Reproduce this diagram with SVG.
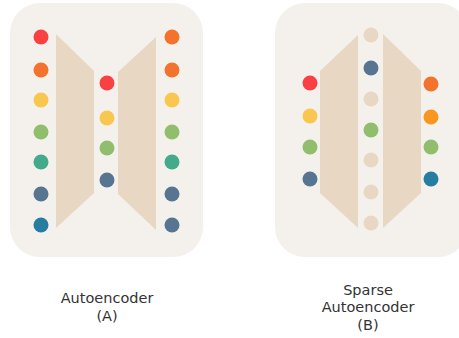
<svg xmlns="http://www.w3.org/2000/svg" width="459" height="338" viewBox="0 0 459 338">
  <style>
    .panel { fill: #F4F1EC; }
    .layer { fill: #E8D8C3; }
    .label { font-family: "DejaVu Sans", sans-serif; font-size: 14.5px; fill: #333333; text-anchor: middle; }
    .r { fill: #F94144; } .o { fill: #F3722C; } .o2 { fill: #F8961E; } .y { fill: #F9C74F; }
    .g { fill: #90BE6D; } .t { fill: #43AA8B; } .s { fill: #577590; } .b { fill: #277DA1; }
    .e { fill: #E8D8C3; }
  </style>

  <!-- Autoencoder (A) -->
  <g id="autoencoder">
    <rect class="panel" x="10" y="3" width="193" height="254" rx="30"/>
    <g id="a-encoder"><polygon class="layer" points="56,34 94,71 94,193 56,228"/></g>
    <g id="a-decoder"><polygon class="layer" points="118,72 156,37 156,230 118,194"/></g>
    <g id="a-input">
      <circle class="r" cx="41" cy="37" r="7.5"/>
      <circle class="o" cx="41" cy="70" r="7.5"/>
      <circle class="y" cx="41" cy="100" r="7.5"/>
      <circle class="g" cx="41" cy="132" r="7.5"/>
      <circle class="t" cx="41" cy="162" r="7.5"/>
      <circle class="s" cx="41" cy="194" r="7.5"/>
      <circle class="b" cx="41" cy="225" r="7.5"/>
    </g>
    <g id="a-code">
      <circle class="r" cx="107" cy="83" r="7.5"/>
      <circle class="y" cx="107" cy="118" r="7.5"/>
      <circle class="g" cx="107" cy="148" r="7.5"/>
      <circle class="s" cx="107" cy="180" r="7.5"/>
    </g>
    <g id="a-output">
      <circle class="o" cx="172" cy="37" r="7.5"/>
      <circle class="o" cx="172" cy="70" r="7.5"/>
      <circle class="y" cx="172" cy="100" r="7.5"/>
      <circle class="g" cx="172" cy="132" r="7.5"/>
      <circle class="t" cx="172" cy="162" r="7.5"/>
      <circle class="s" cx="172" cy="194" r="7.5"/>
      <circle class="s" cx="172" cy="225" r="7.5"/>
    </g>
    <text class="label" x="107" y="303">Autoencoder</text>
    <text class="label" x="107" y="321">(A)</text>
  </g>

  <!-- Sparse Autoencoder (B) -->
  <g id="sparse-autoencoder">
    <rect class="panel" x="275" y="3" width="193" height="254" rx="30"/>
    <g id="b-encoder"><polygon class="layer" points="320,71 358,35 358,228 320,193"/></g>
    <g id="b-decoder"><polygon class="layer" points="383,34 421,71 421,193 383,228"/></g>
    <g id="b-input">
      <circle class="r" cx="310" cy="83" r="7.5"/>
      <circle class="y" cx="310" cy="116" r="7.5"/>
      <circle class="g" cx="310" cy="147" r="7.5"/>
      <circle class="s" cx="310" cy="179" r="7.5"/>
    </g>
    <g id="b-code">
      <circle class="e" cx="371" cy="35" r="7.5"/>
      <circle class="s" cx="371" cy="68" r="7.5"/>
      <circle class="e" cx="371" cy="99" r="7.5"/>
      <circle class="g" cx="371" cy="130" r="7.5"/>
      <circle class="e" cx="371" cy="160" r="7.5"/>
      <circle class="e" cx="371" cy="192" r="7.5"/>
      <circle class="e" cx="371" cy="223" r="7.5"/>
    </g>
    <g id="b-output">
      <circle class="o" cx="431" cy="84" r="7.5"/>
      <circle class="o2" cx="431" cy="117" r="7.5"/>
      <circle class="g" cx="431" cy="147" r="7.5"/>
      <circle class="b" cx="431" cy="179" r="7.5"/>
    </g>
    <text class="label" x="368" y="295">Sparse</text>
    <text class="label" x="368" y="312">Autoencoder</text>
    <text class="label" x="368" y="330">(B)</text>
  </g>
</svg>
